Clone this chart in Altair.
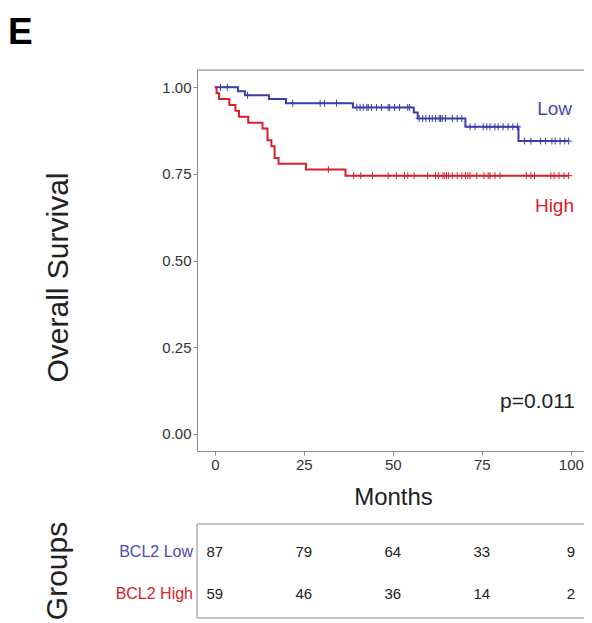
import altair as alt
import pandas as pd

# ---- data ----
groups = ["Low", "High"]
group_colors = ["#3B3DA8", "#D8202A"]

low_time = [0, 6.5, 8.5, 15.2, 20.0, 38.8, 55.9, 57.0, 70.4, 85.3, 99.4]
low_surv = [1.0, 0.989, 0.977, 0.966, 0.954, 0.942, 0.927, 0.910, 0.886, 0.845, 0.845]

high_time = [0, 0.5, 1.2, 4.1, 5.8, 6.8, 9.4, 13.4, 14.8, 15.9, 16.8, 17.9, 25.6, 36.7, 99.4]
high_surv = [1.0, 0.983, 0.966, 0.949, 0.932, 0.915, 0.898, 0.881, 0.847, 0.830, 0.796, 0.779, 0.763, 0.745, 0.745]

low_censor = [1.6, 3.5, 9.2, 21.9, 29.6, 30.8, 34.2,
              39.9, 40.8, 41.7, 42.7, 43.1, 44.0, 45.4, 46.8, 48.7, 49.1, 50.5, 51.9, 54.2, 54.7,
              57.4, 58.4, 59.3, 60.3, 61.1, 62.0, 63.0, 63.4, 63.9, 64.8, 66.7, 68.1, 69.4,
              71.7, 73.1, 75.4, 76.4, 77.3, 78.7, 79.6, 81.0, 82.4, 83.7, 85.0,
              87.0, 88.8, 91.5, 92.9, 94.7, 95.6, 97.0, 98.3, 99.4]
high_censor = [31.9, 39.0, 41.0, 44.3, 48.7, 51.0, 53.3, 54.2, 56.0, 59.8, 62.0, 62.8, 64.1,
               64.6, 65.1, 65.7, 66.7, 68.1, 69.4, 70.4, 71.1, 71.7, 73.6, 75.6, 76.8, 77.3,
               78.7, 80.1, 87.5, 88.8, 89.8, 94.4, 95.3, 96.7, 98.1, 99.4]

x_ticks = [0, 25, 50, 75, 100]
y_ticks = [0.0, 0.25, 0.5, 0.75, 1.0]

table_labels = ["BCL2 Low", "BCL2 High"]
table_times = [0, 25, 50, 75, 100]
low_at_risk = [87, 79, 64, 33, 9]
high_at_risk = [59, 46, 36, 14, 2]

p_text = "p=0.011"

# ---- build tables ----
def surv_at(ts, ss, t):
    v = ss[0]
    for ti, si in zip(ts, ss):
        if ti <= t:
            v = si
    return v

curve_rows = []
for g, ts, ss in [("Low", low_time, low_surv), ("High", high_time, high_surv)]:
    for t, s in zip(ts, ss):
        curve_rows.append({"group": g, "time": t, "surv": s})
curve_df = pd.DataFrame(curve_rows)

cens_rows = []
for g, cs, ts, ss in [("Low", low_censor, low_time, low_surv),
                      ("High", high_censor, high_time, high_surv)]:
    for c in cs:
        cens_rows.append({"group": g, "time": c, "surv": surv_at(ts, ss, c)})
cens_df = pd.DataFrame(cens_rows)

risk_low_df = pd.DataFrame({"time": table_times, "n": low_at_risk})
risk_high_df = pd.DataFrame({"time": table_times, "n": high_at_risk})

W, H = 387, 381
PX_PER_MONTH = 3.56
font = "Liberation Sans"

xscale = alt.Scale(domain=[-5, -5 + W / PX_PER_MONTH], nice=False, zero=False)
yscale = alt.Scale(domain=[-0.05, 1.05], nice=False, zero=False)
cscale = alt.Scale(domain=groups, range=group_colors)

xaxis = alt.Axis(values=x_ticks, grid=False, labelFontSize=15, labelColor="#333333",
                 tickColor="#8a8a8a", domainColor="#8a8a8a", tickSize=4, labelPadding=2,
                 title="Months", titleFontSize=24, titleFontWeight="normal", titleColor="#222222",
                 titleX=196, titleY=53, titleAlign="center", titleBaseline="alphabetic")
yaxis = alt.Axis(values=y_ticks, format=".2f", grid=False, labelFontSize=15, labelColor="#333333",
                 tickColor="#8a8a8a", domainColor="#8a8a8a", tickSize=4, labelPadding=2,
                 title="Overall Survival", titleFontSize=30, titleFontWeight="normal",
                 titleColor="#222222", titleAngle=270, titleX=-130, titleY=207,
                 titleAlign="center", titleBaseline="alphabetic")

lines = alt.Chart(curve_df).mark_line(interpolate="step-after", strokeWidth=2).encode(
    x=alt.X("time:Q", scale=xscale, axis=xaxis),
    y=alt.Y("surv:Q", scale=yscale, axis=yaxis),
    color=alt.Color("group:N", scale=cscale, legend=None),
    detail="group:N",
)

censors = alt.Chart(cens_df).mark_point(
    shape="M0,-1L0,1M-1,0L1,0", filled=False, size=49, strokeWidth=1, opacity=1
).encode(
    x=alt.X("time:Q"),
    y=alt.Y("surv:Q"),
    color=alt.Color("group:N", scale=cscale, legend=None),
)

one = pd.DataFrame({"a": [0]})

top_border = alt.Chart(one).mark_rule(color="#8a8a8a", strokeWidth=1).encode(
    x=alt.value(0), x2=alt.value(W + 20), y=alt.value(0)
)

lab_low = alt.Chart(one).mark_text(text="Low", font=font, fontSize=19, color="#4A4AB2",
                                   align="right", baseline="alphabetic").encode(
    x=alt.value(375), y=alt.value(45))
lab_high = alt.Chart(one).mark_text(text="High", font=font, fontSize=19, color="#D8202A",
                                    align="right", baseline="alphabetic").encode(
    x=alt.value(377), y=alt.value(142))
lab_p = alt.Chart(one).mark_text(text=p_text, font=font, fontSize=21, color="#222222",
                                 align="right", baseline="alphabetic").encode(
    x=alt.value(378), y=alt.value(338))
lab_e = alt.Chart(one).mark_text(text="E", font=font, fontSize=37, fontWeight="bold",
                                 color="#000000", align="left", baseline="alphabetic").encode(
    x=alt.value(-189), y=alt.value(-26))
lab_groups = alt.Chart(one).mark_text(text="Groups", font=font, fontSize=30, color="#222222",
                                      angle=270, align="center", baseline="alphabetic").encode(
    x=alt.value(-130), y=alt.value(501))

table_box = alt.Chart(one).mark_rect(fill="white", fillOpacity=0, stroke="#8a8a8a",
                                     strokeWidth=1).encode(
    x=alt.value(0), x2=alt.value(W + 40), y=alt.value(454), y2=alt.value(548))

row_low = alt.Chart(one).mark_text(text=table_labels[0], font=font, fontSize=16,
                                   color="#4A4AB2", align="right", baseline="middle").encode(
    x=alt.value(-4), y=alt.value(482))
row_high = alt.Chart(one).mark_text(text=table_labels[1], font=font, fontSize=16,
                                    color="#D8202A", align="right", baseline="middle").encode(
    x=alt.value(-4), y=alt.value(524))

nums_low = alt.Chart(risk_low_df).mark_text(font=font, fontSize=15, color="#222222",
                                            align="center", baseline="middle").encode(
    x=alt.X("time:Q"), y=alt.value(482), text="n:Q")
nums_high = alt.Chart(risk_high_df).mark_text(font=font, fontSize=15, color="#222222",
                                              align="center", baseline="middle").encode(
    x=alt.X("time:Q"), y=alt.value(524), text="n:Q")

chart = alt.layer(
    lines, censors, top_border, lab_low, lab_high, lab_p, lab_e, lab_groups,
    table_box, row_low, row_high, nums_low, nums_high
).properties(
    width=W, height=H,
    autosize=alt.AutoSizeParams(type="none"),
    padding={"left": 189, "top": 62, "right": 0, "bottom": 168},
).configure_view(stroke=None).configure(font=font).configure_axis(labelFont=font, titleFont=font)

chart.save("out.html", embed_options={"renderer": "svg", "actions": False})
